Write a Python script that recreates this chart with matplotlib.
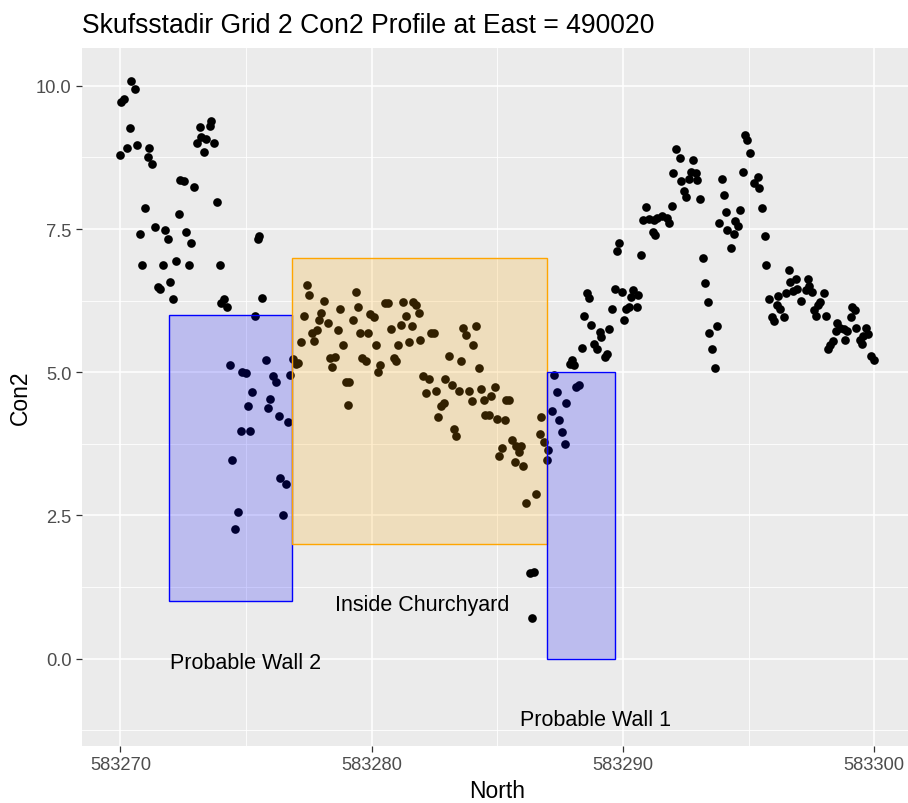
import matplotlib
matplotlib.use("Agg")
import matplotlib.pyplot as plt
from matplotlib.patches import Rectangle
from matplotlib.ticker import FixedLocator, FixedFormatter
from matplotlib.transforms import offset_copy

plt.rcParams['font.family'] = ['Liberation Sans', 'DejaVu Sans']

# Con2 readings along the profile (North coordinate, Con2 value)
north = [
    583269.97, 583270.04, 583270.14, 583270.28, 583270.40, 583270.44, 583270.57, 583270.68,
    583270.80, 583270.86, 583270.98, 583271.10, 583271.14, 583271.27, 583271.39, 583271.50,
    583271.56, 583271.68, 583271.79, 583271.91, 583271.97, 583272.09, 583272.20, 583272.32,
    583272.36, 583272.52, 583272.63, 583272.73, 583272.80, 583272.92, 583273.03, 583273.16,
    583273.22, 583273.32, 583273.42, 583273.55, 583273.62, 583273.73, 583273.85, 583273.96,
    583274.02, 583274.12, 583274.26, 583274.38, 583274.43, 583274.55, 583274.67, 583274.78,
    583274.83, 583274.99, 583275.07, 583275.14, 583275.25, 583275.37, 583275.48, 583275.52,
    583275.65, 583275.78, 583275.89, 583275.96, 583276.07, 583276.18, 583276.30, 583276.37,
    583276.49, 583276.59, 583276.66, 583276.74, 583276.87, 583276.99, 583277.07, 583277.19,
    583277.30, 583277.43, 583277.50, 583277.62, 583277.72, 583277.81, 583277.89, 583278.00,
    583278.12, 583278.25, 583278.33, 583278.42, 583278.53, 583278.66, 583278.72, 583278.84,
    583278.96, 583279.06, 583279.10, 583279.25, 583279.37, 583279.47, 583279.53, 583279.63,
    583279.77, 583279.87, 583279.95, 583280.08, 583280.18, 583280.24, 583280.35, 583280.53,
    583280.65, 583280.76, 583280.89, 583280.96, 583281.05, 583281.17, 583281.23, 583281.36,
    583281.47, 583281.59, 583281.65, 583281.76, 583281.89, 583281.94, 583282.05, 583282.18,
    583282.29, 583282.35, 583282.47, 583282.55, 583282.64, 583282.75, 583282.87, 583282.92,
    583283.06, 583283.18, 583283.28, 583283.35, 583283.47, 583283.57, 583283.64, 583283.77,
    583283.87, 583283.98, 583284.04, 583284.17, 583284.28, 583284.34, 583284.46, 583284.53,
    583284.66, 583284.74, 583284.89, 583284.97, 583285.05, 583285.17, 583285.29, 583285.34,
    583285.47, 583285.58, 583285.70, 583285.74, 583285.86, 583285.96, 583286.04, 583286.16,
    583286.30, 583286.40, 583286.46, 583286.56, 583286.69, 583286.74, 583286.84, 583286.97,
    583287.02, 583287.17, 583287.26, 583287.39, 583287.45, 583287.57, 583287.68, 583287.74,
    583287.89, 583287.98, 583288.06, 583288.15, 583288.26, 583288.38, 583288.44, 583288.55,
    583288.65, 583288.73, 583288.84, 583288.97, 583289.08, 583289.12, 583289.28, 583289.37,
    583289.43, 583289.56, 583289.68, 583289.78, 583289.85, 583289.97, 583290.04, 583290.12,
    583290.24, 583290.32, 583290.41, 583290.54, 583290.61, 583290.73, 583290.78, 583290.90,
    583291.04, 583291.18, 583291.24, 583291.28, 583291.36, 583291.56, 583291.74, 583291.84,
    583291.96, 583292.01, 583292.13, 583292.26, 583292.30, 583292.42, 583292.49, 583292.61,
    583292.69, 583292.77, 583292.90, 583292.95, 583293.06, 583293.19, 583293.25, 583293.37,
    583293.42, 583293.54, 583293.66, 583293.73, 583293.82, 583293.95, 583294.02, 583294.12,
    583294.16, 583294.29, 583294.41, 583294.47, 583294.59, 583294.65, 583294.76, 583294.86,
    583294.94, 583295.06, 583295.22, 583295.36, 583295.42, 583295.53, 583295.64, 583295.69,
    583295.81, 583295.92, 583296.02, 583296.12, 583296.18, 583296.27, 583296.40, 583296.48,
    583296.59, 583296.64, 583296.75, 583296.88, 583296.94, 583297.08, 583297.28, 583297.35,
    583297.41, 583297.52, 583297.60, 583297.69, 583297.77, 583297.84, 583298.00, 583298.07,
    583298.15, 583298.24, 583298.35, 583298.47, 583298.50, 583298.63, 583298.79, 583298.82,
    583298.93, 583299.06, 583299.12, 583299.24, 583299.28, 583299.44, 583299.52, 583299.56,
    583299.67, 583299.74, 583299.87, 583299.99,
]
con2 = [
    8.79, 9.71, 9.77, 8.92, 9.26, 10.09, 9.95, 8.97,
    7.41, 6.88, 7.87, 8.75, 8.92, 8.63, 7.53, 6.48,
    6.45, 6.88, 7.48, 7.33, 6.58, 6.27, 6.94, 7.76,
    8.36, 8.33, 7.45, 6.88, 7.25, 8.23, 9.00, 9.28,
    9.10, 8.85, 9.08, 9.30, 9.39, 9.00, 7.97, 6.88,
    6.20, 6.28, 6.14, 5.13, 3.46, 2.27, 2.56, 3.98,
    5.01, 4.98, 4.41, 3.98, 4.65, 5.98, 7.32, 7.38,
    6.29, 5.21, 4.37, 4.54, 4.93, 4.83, 4.24, 3.15,
    2.51, 3.05, 4.13, 4.96, 5.23, 5.15, 5.16, 5.52,
    5.99, 6.53, 6.35, 5.68, 5.55, 5.73, 5.91, 6.04,
    6.24, 5.86, 5.24, 5.09, 5.27, 5.73, 6.11, 5.47,
    4.83, 4.42, 4.83, 5.91, 6.40, 6.14, 5.68, 5.24,
    5.19, 5.68, 6.01, 5.96, 5.47, 5.01, 5.13, 6.20,
    6.20, 5.76, 5.25, 5.20, 5.47, 5.83, 6.22, 5.99,
    5.52, 5.80, 6.22, 6.17, 6.04, 5.57, 4.93, 4.64,
    4.88, 5.68, 5.68, 4.67, 4.21, 4.41, 4.47, 4.88,
    5.29, 4.77, 4.01, 3.88, 4.67, 5.19, 5.78, 5.65,
    4.67, 4.49, 5.47, 5.80, 5.08, 4.70, 4.52, 4.26,
    4.26, 4.59, 4.74, 4.19, 3.54, 3.67, 4.16, 4.52,
    4.52, 3.82, 3.43, 3.71, 3.61, 3.71, 3.36, 2.72,
    1.50, 0.71, 1.52, 2.87, 3.92, 4.21, 3.79, 3.46,
    3.64, 4.33, 4.95, 4.65, 4.16, 3.95, 3.74, 4.46,
    5.15, 5.22, 5.12, 4.75, 4.78, 5.43, 5.99, 6.39,
    6.29, 5.83, 5.50, 5.40, 5.71, 5.62, 5.27, 5.31,
    5.76, 6.11, 6.45, 7.12, 7.25, 6.40, 5.91, 6.10,
    6.14, 6.31, 6.43, 6.14, 6.35, 7.04, 7.66, 7.89,
    7.67, 7.44, 7.66, 7.40, 7.69, 7.73, 7.70, 7.61,
    7.91, 8.47, 8.89, 8.74, 8.33, 8.16, 8.06, 8.37,
    8.49, 8.71, 8.47, 8.35, 8.02, 6.99, 6.55, 6.22,
    5.68, 5.40, 5.08, 5.80, 7.61, 8.37, 8.09, 7.79,
    7.48, 7.17, 7.42, 7.64, 7.55, 7.84, 8.49, 9.14,
    9.05, 8.82, 8.31, 8.41, 8.21, 7.87, 7.38, 6.87,
    6.27, 5.96, 5.90, 6.17, 6.33, 6.11, 5.96, 6.38,
    6.78, 6.57, 6.42, 6.63, 6.45, 6.25, 6.43, 6.63,
    6.50, 6.40, 6.08, 5.98, 6.18, 6.22, 6.38, 5.99,
    5.40, 5.47, 5.54, 5.72, 5.86, 5.78, 5.75, 5.57,
    5.72, 5.96, 6.14, 6.08, 5.78, 5.56, 5.50, 5.63,
    5.78, 5.67, 5.28, 5.22,
]

# Interpreted zones: (xmin, xmax, ymin, ymax, colour)
zone_xmin = [583271.92, 583276.82, 583286.96]
zone_xmax = [583276.82, 583286.96, 583289.68]
zone_ymin = [1.0, 2.0, 0.0]
zone_ymax = [6.0, 7.0, 5.0]
zone_color = ["blue", "orange", "blue"]

label_text = ["Probable Wall 2", "Inside Churchyard", "Probable Wall 1"]
label_x = [583275.0, 583282.0, 583288.9]
label_y = [0.0, 1.0, -1.0]

x_major = [583270, 583280, 583290, 583300]
x_minor = [583275, 583285, 583295]
y_major = [0.0, 2.5, 5.0, 7.5, 10.0]
y_minor = [-1.25, 1.25, 3.75, 6.25, 8.75]

W, H = 908, 804
fig = plt.figure(figsize=(W / 100, H / 100), dpi=100)
fig.patch.set_facecolor("white")

left, right, top, bottom = 81.7, 912.9, 49.0, 747.3
ax = fig.add_axes([left / W, 1 - bottom / H, (right - left) / W, (bottom - top) / H])
ax.set_facecolor("#EBEBEB")
for s in ax.spines.values():
    s.set_visible(False)

ax.set_xlim(583268.46, 583301.54)
ax.set_ylim(-1.53, 10.66)

ax.xaxis.set_major_locator(FixedLocator(x_major))
ax.xaxis.set_major_formatter(FixedFormatter([str(v) for v in x_major]))
ax.xaxis.set_minor_locator(FixedLocator(x_minor))
ax.yaxis.set_major_locator(FixedLocator(y_major))
ax.yaxis.set_major_formatter(FixedFormatter([f"{v:.1f}" for v in y_major]))
ax.yaxis.set_minor_locator(FixedLocator(y_minor))

ax.grid(True, which="major", color="white", linewidth=1.15)
ax.grid(True, which="minor", color="white", linewidth=0.6)
ax.set_axisbelow(True)

ax.tick_params(which="major", length=4.0, width=0.9, color="#333333",
               labelsize=13.2, labelcolor="#4D4D4D", pad=3.2)
ax.tick_params(which="minor", length=0)

ax.scatter(north, con2, s=39, color="black", linewidths=0, zorder=2)

for x0, x1, y0, y1, c in zip(zone_xmin, zone_xmax, zone_ymin, zone_ymax, zone_color):
    rgba = matplotlib.colors.to_rgba(c, 0.2)
    ax.add_patch(Rectangle((x0, y0), x1 - x0, y1 - y0, facecolor=rgba,
                           edgecolor=c, linewidth=1.0, zorder=3))

# annotations sit slightly below their anchor, as ggplot centres the full text box
label_tr = offset_copy(ax.transData, fig=fig, x=0, y=-3.5, units="dots")
for t, x, y in zip(label_text, label_x, label_y):
    ax.text(x, y, t, ha="center", va="center", fontsize=15.5, color="black",
            zorder=4, transform=label_tr)

ax.set_xlabel("North", fontsize=16.5, color="black", va="center")
ax.xaxis.set_label_coords(0.5, -0.063)
ax.set_ylabel("Con2", fontsize=16.5, color="black", va="center")
ax.yaxis.set_label_coords(-0.0742, 0.5)

fig.text(82 / W, 1 - 33 / H, "Skufsstadir Grid 2 Con2 Profile at East = 490020",
         fontsize=19.1, color="black", ha="left", va="baseline")

fig.savefig("out.png", dpi=100)
